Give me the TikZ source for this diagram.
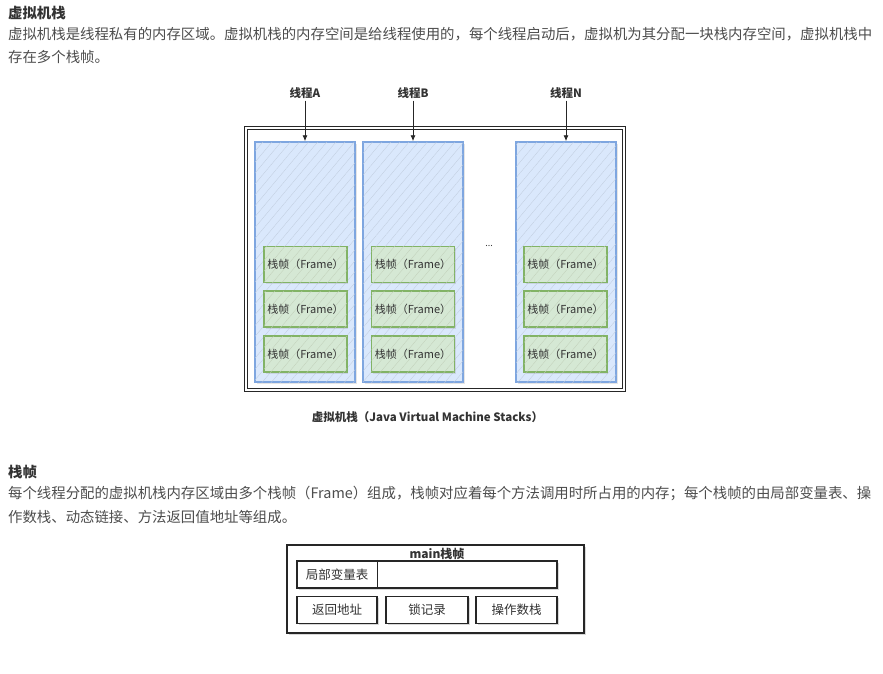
\documentclass[tikz,border=0pt]{standalone}
\usepackage{fontspec}
\setmainfont{Noto Sans CJK SC}
\usepackage{tikz}
\usetikzlibrary{arrows.meta,patterns.meta,shadows}
\definecolor{txt}{HTML}{4D4D4D}
\definecolor{head}{HTML}{333333}
\definecolor{stkfill}{HTML}{DAE8FC}
\definecolor{stkline}{HTML}{7EA6E0}
\definecolor{frmfill}{HTML}{D5E8D4}
\definecolor{frmline}{HTML}{82B366}

\begin{document}
\begin{tikzpicture}[
  x=1pt, y=-1pt,
  para/.style={anchor=base west, inner sep=0pt, text=txt,
    font=\fontsize{14.4}{17}\selectfont},
  ttl/.style={anchor=base west, inner sep=0pt, text=head,
    font=\fontsize{14.4}{17}\selectfont\bfseries},
  thr/.style={inner sep=2pt, text=head, font=\fontsize{11.5}{13}\selectfont\bfseries},
  hatch/.style={pattern={Lines[angle=50,distance=7pt,line width=0.3pt]}, pattern color=#1},
  stk/.style={draw=stkline, line width=1.5pt, minimum width=100pt, minimum height=240pt,
    fill=stkfill, postaction={hatch=stkline!60!gray!50},
    drop shadow={opacity=0.2, shadow xshift=2pt, shadow yshift=-2pt}},
  frm/.style={draw=frmline, line width=1.5pt, minimum width=81pt, minimum height=36pt,
    fill=frmfill, postaction={hatch=frmline!60!gray!50},
    text=black!80, font=\fontsize{11}{12}\selectfont,
    drop shadow={opacity=0.2, shadow xshift=1.5pt, shadow yshift=-1.5pt}},
  arr/.style={-{Latex[length=6pt,width=5pt]}, line width=0.9pt, black!85},
  skb/.style={draw=black!85, line width=1.3pt, inner sep=0pt, text=black!80,
    font=\fontsize{12.5}{14}\selectfont,
    drop shadow={opacity=0.3, shadow xshift=1.5pt, shadow yshift=-1.5pt}}
]
\useasboundingbox[fill=white] (0,0) rectangle (883,673);

\node[ttl] (h1) at (8,18) {虚拟机栈};
\node[para] (p1) at (8,39) {虚拟机栈是线程私有的内存区域。虚拟机栈的内存空间是给线程使用的，每个线程启动后，虚拟机为其分配一块栈内存空间，虚拟机栈中};
\node[para] (p2) at (8,62) {存在多个栈帧。};

\node[fill=black!20, minimum width=378pt, minimum height=262pt] (jsh) at (437,261) {};
\node[draw=black!85, double=white, double distance=1.5pt, line width=1.1pt, fill=white,
  minimum width=378pt, minimum height=262pt] (jvm) at (435,259) {};

\node[stk] (ca) at (305,262) {};
\node[stk] (cb) at (413,262) {};
\node[stk] (cn) at (566,262) {};

\node[thr] (ta) at (305,93) {线程A};
\node[thr] (tb) at (413,93) {线程B};
\node[thr] (tn) at (566,93) {线程N};
\draw[arr] (ta) -- (ca.north);
\draw[arr] (tb) -- (cb.north);
\draw[arr] (tn) -- (cn.north);

\node[frm] (a1) at (305.5,264.5) {栈帧（Frame）};
\node[frm] (a2) at (305.5,309) {栈帧（Frame）};
\node[frm] (a3) at (305.5,354) {栈帧（Frame）};
\node[frm] (b1) at (413,264.5) {栈帧（Frame）};
\node[frm] (b2) at (413,309) {栈帧（Frame）};
\node[frm] (b3) at (413,354) {栈帧（Frame）};
\node[frm] (n1) at (565.5,264.5) {栈帧（Frame）};
\node[frm] (n2) at (565.5,309) {栈帧（Frame）};
\node[frm] (n3) at (565.5,354) {栈帧（Frame）};

\node[text=head, font=\fontsize{9}{10}\selectfont] (dots) at (489,246) {...};

\node[thr] (cap) at (427.5,417) {虚拟机栈（Java Virtual Machine Stacks）};

\node[ttl] (h2) at (8,477) {栈帧};
\node[para] (q1) at (8,498) {每个线程分配的虚拟机栈内存区域由多个栈帧（Frame）组成，栈帧对应着每个方法调用时所占用的内存；每个栈帧的由局部变量表、操};
\node[para] (q2) at (8,522) {作数栈、动态链接、方法返回值地址等组成。};

\node[skb, line width=1.5pt, fill=white, minimum width=297pt, minimum height=88pt]
  (mf) at (435.5,589) {};
\node[text=head, font=\fontsize{12}{14}\selectfont\bfseries] (mt) at (437,554) {main栈帧};
\node[skb, fill=white, minimum width=260pt, minimum height=27pt] (lv) at (427,574.5) {};
\node[inner sep=0pt, text=black!80, font=\fontsize{12.5}{14}\selectfont,
  minimum width=80pt, minimum height=27pt] (lvk) at (337,574.5) {局部变量表};
\draw[black!85, line width=0.7pt] (lvk.north east) -- (lvk.south east);

\node[skb, fill=white, minimum width=80pt, minimum height=27pt] (ra) at (337,610) {返回地址};
\node[skb, fill=white, minimum width=82pt, minimum height=27pt] (lk) at (427,610) {锁记录};
\node[skb, fill=white, minimum width=81pt, minimum height=27pt] (os) at (516.5,610) {操作数栈};
\end{tikzpicture}
\end{document}
